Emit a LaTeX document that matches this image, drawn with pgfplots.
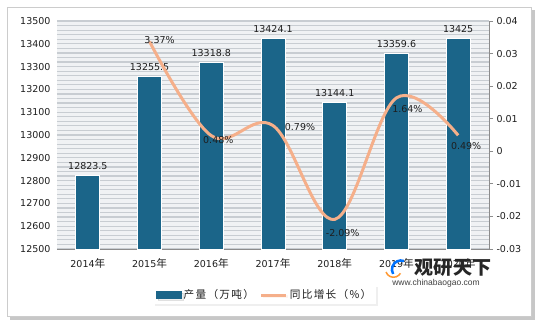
\documentclass[border=0pt]{standalone}
\usepackage{pgfplots}
\pgfplotsset{compat=1.18}
\usetikzlibrary{shadows}
\usepackage{fontspec}
\setmainfont{DejaVu Sans}
\newfontfamily\cjk{Noto Sans CJK SC}[Scale=1.12]
\newfontfamily\cjkleg{Noto Sans CJK SC}[Scale=1.12, LetterSpace=12]
\newfontfamily\urlfont{Liberation Sans}
\definecolor{barblue}{HTML}{1B6589}
\definecolor{lineorange}{HTML}{F5AF8A}
\definecolor{stripe}{HTML}{C8CDD2}
\definecolor{plotbg}{HTML}{F0F2F4}
\definecolor{txt}{HTML}{1E1E1E}
\newcommand{\lbl}{\fontsize{9.5}{11}\selectfont}
\pgfplotsset{/pgf/number format/assume math mode=true}
\begin{document}
\begin{tikzpicture}
\useasboundingbox (0pt,0pt) rectangle (539pt,325pt);
\fill[white] (0pt,0pt) rectangle (539pt,325pt);
\fill[black!22] (10pt,5pt) rectangle (535pt,315pt);
\fill[white,draw=black!20] (7pt,9pt) rectangle (531pt,318pt);

\begin{axis}[at={(57pt,76pt)}, anchor=south west, scale only axis,
  width=432pt, height=228pt,
  xmin=-0.5, xmax=6.5, ymin=12500, ymax=13500,
  ytick={12500,12600,...,13500},
  minor y tick num=4,
  ymajorgrids, yminorgrids,
  major grid style={stripe, line width=1.2pt},
  minor grid style={stripe, line width=1.2pt},
  axis background/.style={fill=plotbg},
  axis x line*=bottom, axis y line*=left,
  y axis line style={draw=none},
  x axis line style={black!45, line width=0.8pt},
  major tick length=0pt, minor tick length=0pt,
  scaled y ticks=false,
  yticklabel style={font=\lbl, color=txt, xshift=-3pt, /pgf/number format/1000 sep={}},
  xtick={0,1,2,3,4,5,6},
  xticklabels={2014{\cjk 年},2015{\cjk 年},2016{\cjk 年},2017{\cjk 年},2018{\cjk 年},2019{\cjk 年},2020{\cjk 年}},
  xticklabel style={font=\lbl, color=txt, yshift=-6pt},
  ybar, bar width=24pt,
  nodes near coords={\pgfmathprintnumber[fixed,precision=1,1000 sep={}]{\pgfplotspointmeta}},
  every node near coord/.append style={font=\lbl, color=txt, yshift=2pt},
]
\addplot[fill=barblue, draw=white, line width=0.8pt] coordinates {
 (0,12823.5) (1,13255.5) (2,13318.8) (3,13424.1) (4,13144.1) (5,13359.6) (6,13425)};
\end{axis}

\begin{axis}[at={(57pt,76pt)}, anchor=south west, scale only axis,
  width=432pt, height=228pt,
  xmin=-0.5, xmax=6.5, ymin=-0.03, ymax=0.04,
  axis x line=none, axis y line*=right,
  y axis line style={black!45, line width=0.8pt},
  ytick={-0.03,-0.02,-0.01,0,0.01,0.02,0.03,0.04},
  scaled y ticks=false,
  tick align=outside, major tick length=4pt,
  ytick style={black!45, line width=0.8pt},
  yticklabel style={font=\lbl, color=txt, /pgf/number format/.cd, fixed, precision=2},
  legend style={at={(axis description cs:0.481,-0.202)}, anchor=center,
    draw=none, fill=white, legend columns=2, font=\lbl, text=txt,
    drop shadow={opacity=0.12, shadow xshift=1.5pt, shadow yshift=-1.5pt},
    /tikz/every even column/.style={column sep=4pt}},
]
\addlegendimage{legend image code/.code={\fill[barblue] (0pt,-3.5pt) rectangle (25pt,3.5pt);}}
\addlegendentry{\cjkleg 产量（万吨）}
\addplot[lineorange, line width=3pt, smooth, tension=0.6,
  legend image code/.code={\draw[lineorange, line width=3pt] (0pt,0pt)--(25pt,0pt);}]
  coordinates {(1,0.0337) (2,0.0048) (3,0.0079) (4,-0.0209) (5,0.0164) (6,0.0049)};
\addlegendentry{\cjkleg 同比增长（\%）}
\node[font=\lbl, txt, xshift=10pt, yshift=1.5pt] at (axis cs:1,0.0337) {3.37\%};
\node[font=\lbl, txt, xshift=7pt, yshift=-4pt] at (axis cs:2,0.0048) {0.48\%};
\node[font=\lbl, txt, xshift=27pt, yshift=-1pt] at (axis cs:3,0.0079) {0.79\%};
\node[font=\lbl, txt, xshift=8pt, yshift=-14pt] at (axis cs:4,-0.0209) {-2.09\%};
\node[font=\lbl, txt, xshift=11pt, yshift=-11pt] at (axis cs:5,0.0164) {1.64\%};
\node[font=\lbl, txt, xshift=8pt, yshift=-11pt] at (axis cs:6,0.0049) {0.49\%};
\end{axis}

% watermark
\draw[blue!55!cyan, line width=2.5pt] (404pt,64pt) arc (70:210:9pt);
\draw[orange!80, line width=1.5pt] (386pt,53pt) arc (200:330:8pt);
\node[font=\cjk\bfseries\fontsize{17}{17}\selectfont, text=black!85] at (453pt,57pt) {观研天下};
\node[font=\urlfont\fontsize{8.5}{9}\selectfont, text=black!75] at (436pt,42pt) {www.chinabaogao.com};
\end{tikzpicture}
\end{document}
